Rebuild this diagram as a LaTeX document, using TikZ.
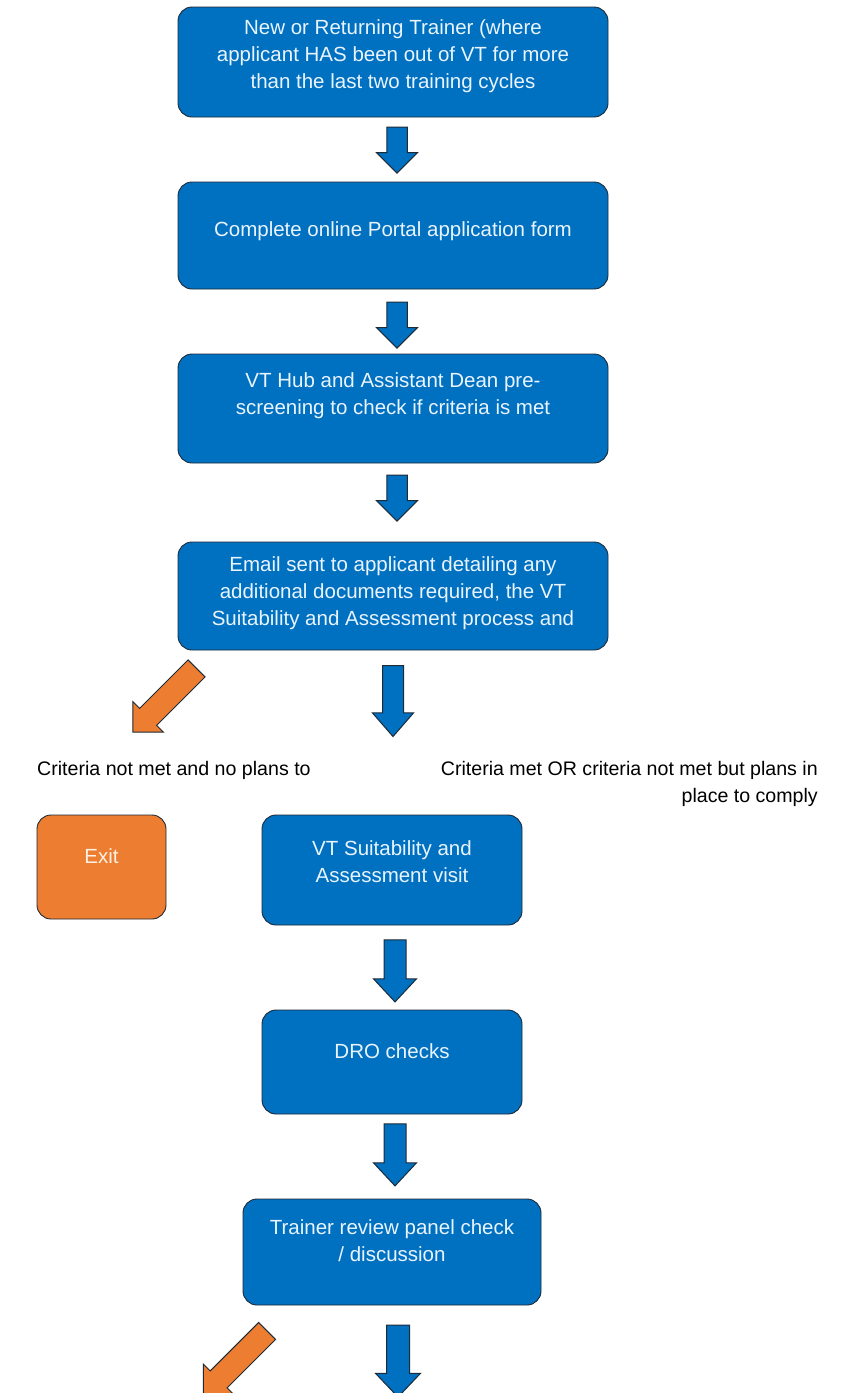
\documentclass[tikz,border=0pt]{standalone}
\usepackage{fontspec}
\setmainfont{Liberation Sans}
\usetikzlibrary{shapes.arrows}
\definecolor{boxblue}{HTML}{0070C0}
\definecolor{boxorange}{HTML}{ED7D31}
\definecolor{edgedark}{HTML}{1E2A36}
\definecolor{boxtext}{HTML}{EAF4FF}
\definecolor{exittext}{HTML}{FFF1E4}
\tikzset{
  flowbox/.style={draw=edgedark, line width=0.9pt, fill=boxblue, rounded corners=14pt, inner sep=0pt},
  exitbox/.style={flowbox, fill=boxorange},
  boxlabel/.style={text=boxtext, align=center, font=\fontsize{20.5}{27}\selectfont, inner sep=0pt},
  sidelabel/.style={text=black, font=\fontsize{19.6}{27}\selectfont, inner sep=0pt},
  blockarrow/.style={single arrow, draw=edgedark, line width=1pt, inner xsep=0pt, single arrow head indent=0pt, minimum width=0pt},
  downarrow/.style={blockarrow, fill=boxblue, rotate=-90},
  exitarrow/.style={blockarrow, fill=boxorange, rotate=-135, single arrow tip angle=90, minimum height=90pt, inner ysep=11.5pt, single arrow head extend=9.5pt}
}
\begin{document}
\begin{tikzpicture}[x=1pt,y=-1pt]
\useasboundingbox (0,0) rectangle (847,1393);
\clip (0,0) rectangle (847,1393);
% boxes
\node[flowbox, minimum width=430pt, minimum height=110pt] (b1) at (393,62) {};
\node[boxlabel] (t1) at (393,56) {New or Returning Trainer (where\\applicant HAS been out of VT for more\\than the last two training cycles};
\node[flowbox, minimum width=430pt, minimum height=107pt] (b2) at (393,235.5) {};
\node[boxlabel] (t2) at (393,231) {Complete online Portal application form};
\node[flowbox, minimum width=430pt, minimum height=109pt] (b3) at (393,408.5) {};
\node[boxlabel] (t3) at (393,396) {VT Hub and Assistant Dean pre-\\screening to check if criteria is met};
\node[flowbox, minimum width=430pt, minimum height=108pt] (b4) at (393,596) {};
\node[boxlabel] (t4) at (393,593) {Email sent to applicant detailing any\\additional documents required, the VT\\Suitability and Assessment process and};
\node[exitbox, minimum width=129pt, minimum height=104pt] (ex) at (101.5,867) {};
\node[boxlabel, text=exittext] (tex) at (101.5,856) {Exit};
\node[flowbox, minimum width=260pt, minimum height=110pt] (b5) at (392,870) {};
\node[boxlabel] (t5) at (392,862) {VT Suitability and\\Assessment visit};
\node[flowbox, minimum width=260pt, minimum height=104pt] (b6) at (392,1062) {};
\node[boxlabel] (t6) at (392,1051) {DRO checks};
\node[flowbox, minimum width=298pt, minimum height=106pt] (b7) at (392,1252) {};
\node[boxlabel] (t7) at (392,1241) {Trainer review panel check\\/ discussion};
% side labels
\node[sidelabel, anchor=west] (l1) at (37,770) {Criteria not met and no plans to};
\node[sidelabel, anchor=east, align=right] (l2) at (818,783.5) {Criteria met OR criteria not met but plans in\\place to comply};
% blue arrows
\node[downarrow, minimum height=46pt, inner ysep=9.75pt, single arrow head extend=10.25pt, single arrow tip angle=90] (a1) at (397,145) {};
\node[downarrow, minimum height=46pt, inner ysep=9.75pt, single arrow head extend=10.25pt, single arrow tip angle=90] (a2) at (397,320) {};
\node[downarrow, minimum height=46pt, inner ysep=9.75pt, single arrow head extend=10.25pt, single arrow tip angle=90] (a3) at (397,493) {};
\node[downarrow, minimum height=71pt, inner ysep=10pt, single arrow head extend=10pt, single arrow tip angle=82] (a4) at (393,695) {};
\node[downarrow, minimum height=62pt, inner ysep=10.5pt, single arrow head extend=10.5pt, single arrow tip angle=86] (a5) at (395,965) {};
\node[downarrow, minimum height=62pt, inner ysep=10.5pt, single arrow head extend=10.5pt, single arrow tip angle=86] (a6) at (395,1149) {};
\node[downarrow, minimum height=72pt, inner ysep=11pt, single arrow head extend=11pt, single arrow tip angle=87] (a7) at (398,1355) {};
% orange arrows
\node[exitarrow] (o1) at (169,696) {};
\node[exitarrow] (o2) at (239.5,1358.5) {};
\end{tikzpicture}
\end{document}
